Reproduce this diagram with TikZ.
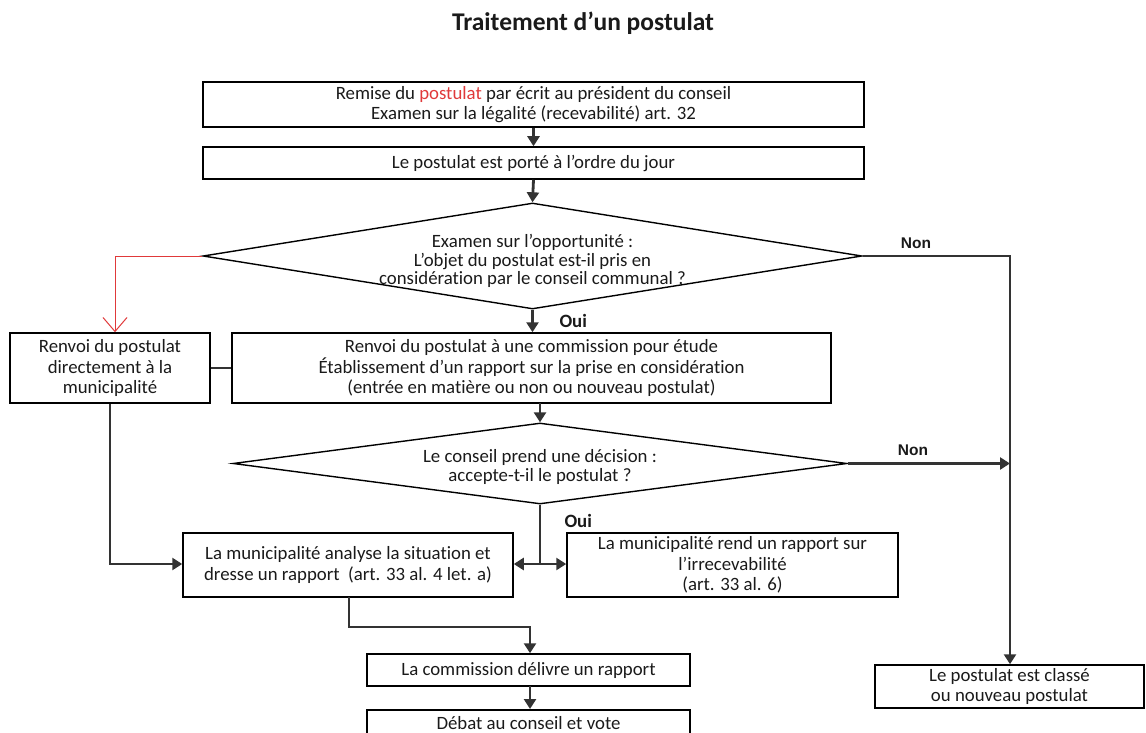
\documentclass[tikz,border=0pt]{standalone}
\usepackage{fontspec}
\setmainfont{Carlito}[Ligatures=NoCommon]
\newfontfamily\arialf{Liberation Sans}
\usetikzlibrary{shapes.geometric,arrows.meta}
\definecolor{linec}{HTML}{333333}
\definecolor{redc}{HTML}{E0393A}
\definecolor{txt}{HTML}{1A1A1A}
\begin{document}
\begin{tikzpicture}[x=1pt,y=-1pt,
  box/.style={draw=black,line width=1.5pt,align=center,inner sep=0pt,
    font=\fontsize{18.8}{20.5}\selectfont,text=txt},
  dia/.style={draw=black,line width=1.4pt,shape=diamond,aspect=6,inner sep=0pt},
  diatext/.style={align=center,inner sep=0pt,font=\fontsize{18.8}{18.8}\selectfont,text=txt},
  conn/.style={draw=linec,line width=2.8pt},
  arr/.style={conn,-{Triangle[length=10pt,width=12pt]}},
  redarr/.style={draw=redc,line width=1pt,-{Straight Barb[length=14pt,width=24pt]}},
  oui/.style={font=\fontsize{18.8}{21}\selectfont\bfseries,text=txt},
  non/.style={font=\arialf\bfseries\fontsize{15.5}{18}\selectfont,text=txt}]
\useasboundingbox (0,0) rectangle (1146,733);

\node[font=\fontsize{25.5}{28}\selectfont\bfseries,text=txt] (title) at (583,23) {Traitement d’un postulat};

\node[box,minimum width=661pt,minimum height=45pt] (b1) at (533.5,104.5)
  {\raisebox{-2pt}{\shortstack{Remise du \textcolor{redc}{postulat} par écrit au président du conseil\\[1pt]Examen sur la légalité (recevabilité) art. 32}}};
\node[box,minimum width=661pt,minimum height=32pt] (b2) at (533.5,163)
  {Le postulat est porté à l’ordre du jour};
\node[dia,minimum width=659pt,minimum height=106pt] (d1) at (532.5,256) {};
\node[diatext] (d1t) at (532.5,261)
  {Examen sur l’opportunité :\\L’objet du postulat est-il pris en\\considération par le conseil communal ?};
\node[box,minimum width=200pt,minimum height=70pt] (lb) at (110,368)
  {Renvoi du postulat\\directement à la\\municipalité};
\node[box,minimum width=599pt,minimum height=70pt] (b3) at (531.5,368)
  {Renvoi du postulat à une commission pour étude\\Établissement d’un rapport sur la prise en considération\\(entrée en matière ou non ou nouveau postulat)};
\node[dia,minimum width=614pt,minimum height=81pt] (d2) at (540,463.5) {};
\node[diatext] (d2t) at (540,467)
  {Le conseil prend une décision :\\accepte-t-il le postulat ?};
\node[box,minimum width=330pt,minimum height=64pt] (b4) at (348,565)
  {La municipalité analyse la situation et\\dresse un rapport\ \ (art. 33 al. 4 let. a)};
\node[box,minimum width=331pt,minimum height=64pt] (b5) at (732.5,565)
  {La municipalité rend un rapport sur\\l’irrecevabilité\\(art. 33 al. 6)};
\node[box,minimum width=323pt,minimum height=32pt] (b6) at (528.5,670)
  {La commission délivre un rapport};
\node[box,minimum width=323pt,minimum height=26pt,anchor=north] (b7) at (528.5,709)
  {Débat au conseil et vote};
\node[box,minimum width=269pt,minimum height=43pt] (b8) at (1009.5,686.5)
  {Le postulat est classé\\ou nouveau postulat};

% connectors
\draw[arr] (b1.south) -- (b2.north);
\draw[arr] (b2.south) -- (d1.north);
\draw[arr] (d1.south) -- (d1.south |- b3.north);
\node[oui,anchor=west] (oui1) at (556,321) {Oui};
\draw[conn] (lb.east) -- (lb.east -| b3.west);
\coordinate (c3) at (540,403);
\draw[arr] (c3) -- (d2.north);

% red path
\coordinate (rc) at (115,256);
\draw[redarr] (d1.west) -- (rc) -- (rc |- lb.north);

% Non branches
\coordinate (nr) at (1010,256);
\draw[arr] (d1.east) -- (nr) -- (nr |- b8.north);
\node[non] (non1) at (916,243) {Non};
\coordinate (nr2) at (1010,463.5);
\draw[arr] (d2.east) -- (nr2);
\node[non] (non2) at (913,450) {Non};

% Oui split
\coordinate (j) at (540,564);
\draw[conn] (d2.south) -- (j);
\node[oui,anchor=west] (oui2) at (561,521) {Oui};
\draw[arr] (j) -- (j -| b4.east);
\draw[arr] (j) -- (j -| b5.west);

% left box down to b4
\coordinate (lc) at (110,564);
\draw[arr] (lb.south) -- (lc) -- (lc -| b4.west);

% b4 to b6
\coordinate (k1) at (349,597);
\coordinate (k2) at (349,627);
\coordinate (k3) at (530,627);
\draw[arr] (k1) -- (k2) -- (k3) -- (k3 |- b6.north);
\coordinate (k4) at (530,686);
\draw[arr] (k4) -- (k4 |- b7.north);
\end{tikzpicture}
\end{document}
